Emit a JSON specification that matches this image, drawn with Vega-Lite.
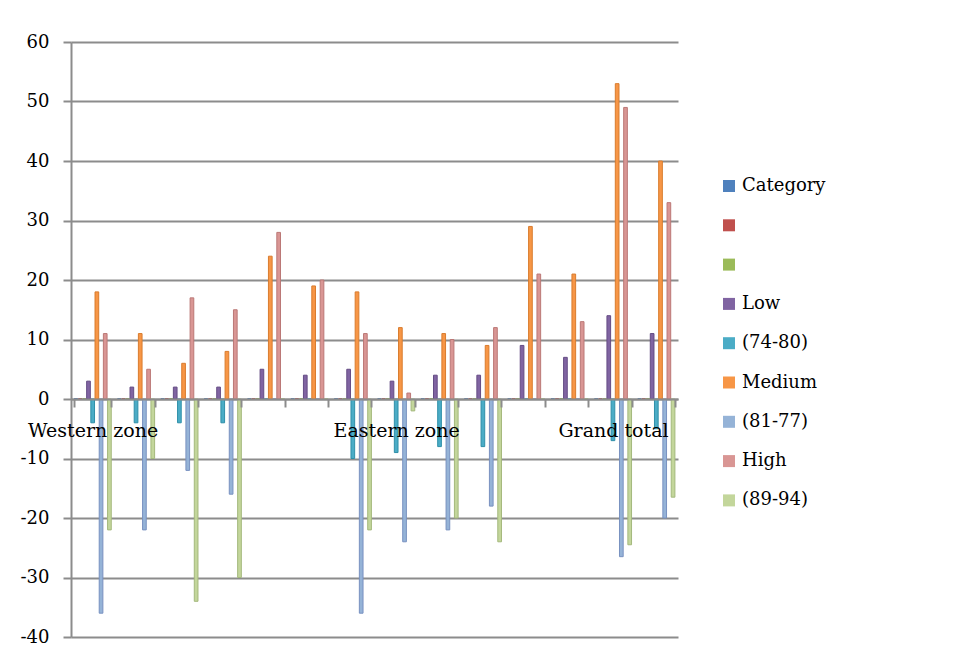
{
  "$schema": "https://vega.github.io/schema/vega-lite/v6.json",
  "width": 607,
  "height": 595,
  "padding": {"left": 5, "top": 33, "right": 5, "bottom": 5},
  "background": "white",
  "config": {
    "font": "DejaVu Serif",
    "view": {"stroke": null}
  },
  "data": {
    "values": [
      {"row": 1, "series": "Category", "value": 0},
      {"row": 1, "series": "Series 2", "value": 0},
      {"row": 1, "series": "Series 3", "value": 0},
      {"row": 1, "series": "Low", "value": 3},
      {"row": 1, "series": "(74-80)", "value": -4},
      {"row": 1, "series": "Medium", "value": 18},
      {"row": 1, "series": "(81-77)", "value": -36},
      {"row": 1, "series": "High", "value": 11},
      {"row": 1, "series": "(89-94)", "value": -22},

      {"row": 2, "series": "Category", "value": 0},
      {"row": 2, "series": "Series 2", "value": 0},
      {"row": 2, "series": "Series 3", "value": 0},
      {"row": 2, "series": "Low", "value": 2},
      {"row": 2, "series": "(74-80)", "value": -4},
      {"row": 2, "series": "Medium", "value": 11},
      {"row": 2, "series": "(81-77)", "value": -22},
      {"row": 2, "series": "High", "value": 5},
      {"row": 2, "series": "(89-94)", "value": -10},

      {"row": 3, "series": "Category", "value": 0},
      {"row": 3, "series": "Series 2", "value": 0},
      {"row": 3, "series": "Series 3", "value": 0},
      {"row": 3, "series": "Low", "value": 2},
      {"row": 3, "series": "(74-80)", "value": -4},
      {"row": 3, "series": "Medium", "value": 6},
      {"row": 3, "series": "(81-77)", "value": -12},
      {"row": 3, "series": "High", "value": 17},
      {"row": 3, "series": "(89-94)", "value": -34},

      {"row": 4, "series": "Category", "value": 0},
      {"row": 4, "series": "Series 2", "value": 0},
      {"row": 4, "series": "Series 3", "value": 0},
      {"row": 4, "series": "Low", "value": 2},
      {"row": 4, "series": "(74-80)", "value": -4},
      {"row": 4, "series": "Medium", "value": 8},
      {"row": 4, "series": "(81-77)", "value": -16},
      {"row": 4, "series": "High", "value": 15},
      {"row": 4, "series": "(89-94)", "value": -30},

      {"row": 5, "series": "Category", "value": 0},
      {"row": 5, "series": "Series 2", "value": 0},
      {"row": 5, "series": "Series 3", "value": 0},
      {"row": 5, "series": "Low", "value": 5},
      {"row": 5, "series": "(74-80)", "value": 0},
      {"row": 5, "series": "Medium", "value": 24},
      {"row": 5, "series": "(81-77)", "value": 0},
      {"row": 5, "series": "High", "value": 28},
      {"row": 5, "series": "(89-94)", "value": 0},

      {"row": 6, "series": "Category", "value": 0},
      {"row": 6, "series": "Series 2", "value": 0},
      {"row": 6, "series": "Series 3", "value": 0},
      {"row": 6, "series": "Low", "value": 4},
      {"row": 6, "series": "(74-80)", "value": 0},
      {"row": 6, "series": "Medium", "value": 19},
      {"row": 6, "series": "(81-77)", "value": 0},
      {"row": 6, "series": "High", "value": 20},
      {"row": 6, "series": "(89-94)", "value": 0},

      {"row": 7, "series": "Category", "value": 0},
      {"row": 7, "series": "Series 2", "value": 0},
      {"row": 7, "series": "Series 3", "value": 0},
      {"row": 7, "series": "Low", "value": 5},
      {"row": 7, "series": "(74-80)", "value": -10},
      {"row": 7, "series": "Medium", "value": 18},
      {"row": 7, "series": "(81-77)", "value": -36},
      {"row": 7, "series": "High", "value": 11},
      {"row": 7, "series": "(89-94)", "value": -22},

      {"row": 8, "series": "Category", "value": 0},
      {"row": 8, "series": "Series 2", "value": 0},
      {"row": 8, "series": "Series 3", "value": 0},
      {"row": 8, "series": "Low", "value": 3},
      {"row": 8, "series": "(74-80)", "value": -9},
      {"row": 8, "series": "Medium", "value": 12},
      {"row": 8, "series": "(81-77)", "value": -24},
      {"row": 8, "series": "High", "value": 1},
      {"row": 8, "series": "(89-94)", "value": -2},

      {"row": 9, "series": "Category", "value": 0},
      {"row": 9, "series": "Series 2", "value": 0},
      {"row": 9, "series": "Series 3", "value": 0},
      {"row": 9, "series": "Low", "value": 4},
      {"row": 9, "series": "(74-80)", "value": -8},
      {"row": 9, "series": "Medium", "value": 11},
      {"row": 9, "series": "(81-77)", "value": -22},
      {"row": 9, "series": "High", "value": 10},
      {"row": 9, "series": "(89-94)", "value": -20},

      {"row": 10, "series": "Category", "value": 0},
      {"row": 10, "series": "Series 2", "value": 0},
      {"row": 10, "series": "Series 3", "value": 0},
      {"row": 10, "series": "Low", "value": 4},
      {"row": 10, "series": "(74-80)", "value": -8},
      {"row": 10, "series": "Medium", "value": 9},
      {"row": 10, "series": "(81-77)", "value": -18},
      {"row": 10, "series": "High", "value": 12},
      {"row": 10, "series": "(89-94)", "value": -24},

      {"row": 11, "series": "Category", "value": 0},
      {"row": 11, "series": "Series 2", "value": 0},
      {"row": 11, "series": "Series 3", "value": 0},
      {"row": 11, "series": "Low", "value": 9},
      {"row": 11, "series": "(74-80)", "value": 0},
      {"row": 11, "series": "Medium", "value": 29},
      {"row": 11, "series": "(81-77)", "value": 0},
      {"row": 11, "series": "High", "value": 21},
      {"row": 11, "series": "(89-94)", "value": 0},

      {"row": 12, "series": "Category", "value": 0},
      {"row": 12, "series": "Series 2", "value": 0},
      {"row": 12, "series": "Series 3", "value": 0},
      {"row": 12, "series": "Low", "value": 7},
      {"row": 12, "series": "(74-80)", "value": 0},
      {"row": 12, "series": "Medium", "value": 21},
      {"row": 12, "series": "(81-77)", "value": 0},
      {"row": 12, "series": "High", "value": 13},
      {"row": 12, "series": "(89-94)", "value": 0},

      {"row": 13, "series": "Category", "value": 0},
      {"row": 13, "series": "Series 2", "value": 0},
      {"row": 13, "series": "Series 3", "value": 0},
      {"row": 13, "series": "Low", "value": 14},
      {"row": 13, "series": "(74-80)", "value": -7},
      {"row": 13, "series": "Medium", "value": 53},
      {"row": 13, "series": "(81-77)", "value": -26.5},
      {"row": 13, "series": "High", "value": 49},
      {"row": 13, "series": "(89-94)", "value": -24.5},

      {"row": 14, "series": "Category", "value": 0},
      {"row": 14, "series": "Series 2", "value": 0},
      {"row": 14, "series": "Series 3", "value": 0},
      {"row": 14, "series": "Low", "value": 11},
      {"row": 14, "series": "(74-80)", "value": -5},
      {"row": 14, "series": "Medium", "value": 40},
      {"row": 14, "series": "(81-77)", "value": -20},
      {"row": 14, "series": "High", "value": 33},
      {"row": 14, "series": "(89-94)", "value": -16.5}
    ]
  },
  "mark": {"type": "bar", "strokeWidth": 1},
  "encoding": {
    "x": {
      "field": "row",
      "type": "ordinal",
      "scale": {"paddingInner": 0.143, "paddingOuter": 0.0715},
      "axis": {
        "title": null,
        "offset": -238,
        "zindex": 1,
        "labelAngle": 0,
        "labelFontSize": 19,
        "labelColor": "#000000",
        "labelPadding": 14,
        "labelOverlap": false,
        "labelExpr": "datum.value == 1 ? 'Western zone' : datum.value == 8 ? 'Eastern zone' : datum.value == 13 ? 'Grand total' : ''",
        "tickBand": "extent",
        "tickSize": 8,
        "tickColor": "#8c8c8c",
        "tickWidth": 2,
        "domainColor": "#8c8c8c",
        "domainWidth": 2
      }
    },
    "xOffset": {
      "field": "series",
      "type": "nominal",
      "sort": ["Category", "Series 2", "Series 3", "Low", "(74-80)", "Medium", "(81-77)", "High", "(89-94)"],
      "scale": {"paddingInner": 0.12, "paddingOuter": 0}
    },
    "y": {
      "field": "value",
      "type": "quantitative",
      "scale": {"domain": [-40, 60], "nice": false},
      "axis": {
        "title": null,
        "values": [-40, -30, -20, -10, 0, 10, 20, 30, 40, 50, 60],
        "labelExpr": "'' + datum.value",
        "minExtent": 66,
        "labelFontSize": 18,
        "labelColor": "#000000",
        "labelPadding": 14,
        "tickSize": 8,
        "tickColor": "#8c8c8c",
        "tickWidth": 2,
        "domainColor": "#8c8c8c",
        "domainWidth": 2,
        "gridColor": "#8c8c8c",
        "gridWidth": 2
      }
    },
    "color": {
      "field": "series",
      "type": "nominal",
      "scale": {
        "domain": ["Category", "Series 2", "Series 3", "Low", "(74-80)", "Medium", "(81-77)", "High", "(89-94)"],
        "range": ["#4F81BD", "#C0504D", "#9BBB59", "#8064A2", "#4BACC6", "#F79646", "#95B3D7", "#D99694", "#C3D69B"]
      },
      "legend": {
        "title": null,
        "orient": "none",
        "legendX": 649,
        "legendY": 135,
        "padding": 0,
        "symbolType": "square",
        "symbolSize": 144,
        "symbolStrokeWidth": 0,
        "labelFontSize": 18,
        "labelColor": "#000000",
        "labelOffset": 4,
        "rowPadding": 21.3,
        "labelExpr": "datum.label == 'Series 2' || datum.label == 'Series 3' ? '' : datum.label"
      }
    },
    "stroke": {
      "field": "series",
      "type": "nominal",
      "scale": {
        "domain": ["Category", "Series 2", "Series 3", "Low", "(74-80)", "Medium", "(81-77)", "High", "(89-94)"],
        "range": ["#3A679C", "#9D3D3A", "#7D9A41", "#644C84", "#2F8FA8", "#D97C2E", "#7891C0", "#BB7876", "#A4B87C"]
      },
      "legend": null
    }
  }
}
